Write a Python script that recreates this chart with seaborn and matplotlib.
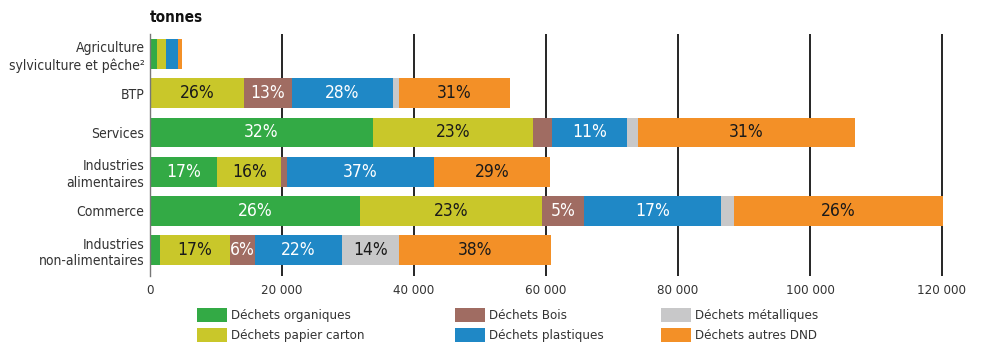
import matplotlib
matplotlib.use("Agg")
import matplotlib.pyplot as plt
import matplotlib.patches as mpatches
import numpy as np
import pandas as pd
import seaborn as sns

# Tonnages of non-hazardous waste by activity sector
sectors = [
    "Agriculture\nsylviculture et pêche²",
    "BTP",
    "Services",
    "Industries\nalimentaires",
    "Commerce",
    "Industries\nnon-alimentaires",
]
organiques = [1060, 0, 33800, 10200, 31800, 1520]
papier_carton = [1360, 14240, 24200, 9700, 27600, 10600]
bois = [0, 7270, 2900, 800, 6300, 3790]
plastiques = [1770, 15300, 11400, 22300, 20800, 13200]
metalliques = [0, 910, 1700, 0, 1970, 8640]
autres_dnd = [650, 16800, 32800, 17600, 31700, 23000]

waste_types = [
    "Déchets organiques",
    "Déchets papier carton",
    "Déchets Bois",
    "Déchets plastiques",
    "Déchets métalliques",
    "Déchets autres DND",
]
series = [organiques, papier_carton, bois, plastiques, metalliques, autres_dnd]
colors = ["#33aa45", "#c9c72a", "#a06c62", "#1f88c6", "#c8c8c9", "#f39027"]
label_colors = ["white", "#1a1a1a", "white", "white", "#1a1a1a", "#1a1a1a"]

x_ticks = [0, 20000, 40000, 60000, 80000, 100000, 120000]
x_tick_labels = ["0", "20 000", "40 000", "60 000", "80 000", "100 000", "120 000"]

sns.set_theme(style="white")
plt.rcParams["font.family"] = ["DejaVu Sans"]
plt.rcParams["font.stretch"] = "condensed"

W, H = 982, 347
fig = plt.figure(figsize=(W / 100, H / 100), dpi=100)
ax = fig.add_axes([150 / W, 1 - 276 / H, (123000 * 0.0066) / W, (276 - 34) / H])

df = pd.DataFrame({t: s for t, s in zip(waste_types, series)}, index=sectors)
cum = df.cumsum(axis=1)
totals = df.sum(axis=1)

# Stacked bars: draw the cumulative totals from the outermost layer inwards
for i in range(len(waste_types) - 1, -1, -1):
    t = waste_types[i]
    sns.barplot(
        x=cum[t].values, y=sectors, order=sectors, orient="h",
        color=colors[i], saturation=1, width=0.76, linewidth=0,
        errorbar=None, ax=ax, zorder=2,
    )

# Share labels inside the larger segments
for i, t in enumerate(waste_types):
    for j, sec in enumerate(sectors):
        v = df.loc[sec, t]
        if v >= 3000:
            pct = int(round(100 * v / totals[sec]))
            ax.text(cum.loc[sec, t] - v / 2, j, f"{pct}%", ha="center", va="center",
                    fontsize=12.5, color=label_colors[i], zorder=5)

ax.set_xlim(0, 123000)
ax.set_ylim(5.66, -0.51)
ax.set_xticks(x_ticks)
ax.set_xticklabels(x_tick_labels, fontsize=9.5, color="#333333")
ax.tick_params(axis="x", length=0, pad=6)
ax.tick_params(axis="y", length=0, pad=4, labelsize=10, labelcolor="#333333")
ax.set_xlabel("")
ax.set_ylabel("")
for lbl in ax.get_yticklabels():
    lbl.set_linespacing(1.25)

ax.set_axisbelow(True)
ax.grid(False)
for xv in x_ticks[1:]:
    ax.axvline(xv, color="black", lw=1.2, zorder=0)
for s in ["top", "right", "bottom"]:
    ax.spines[s].set_visible(False)
ax.spines["left"].set_color("#777777")
ax.spines["left"].set_linewidth(1.0)

fig.text(150 / W, 1 - 18 / H, "tonnes", fontsize=11, fontweight="bold",
         color="#111111", ha="left", va="center")

# Legend in three columns
handles = [mpatches.Patch(color=c, linewidth=0) for c in colors]
col_x = [197, 455, 661]
order_cols = [[0, 1], [2, 3], [4, 5]]
for cx, idx in zip(col_x, order_cols):
    leg = fig.legend(
        [handles[k] for k in idx], [waste_types[k] for k in idx],
        loc="upper left", bbox_to_anchor=(cx / W, 1 - 308 / H),
        frameon=False, fontsize=9.5, borderpad=0, borderaxespad=0,
        handlelength=2.25, handleheight=1.25, handletextpad=0.3, labelspacing=0.4,
    )
    for txt in leg.get_texts():
        txt.set_color("#333333")

fig.savefig("out.png", dpi=100)
